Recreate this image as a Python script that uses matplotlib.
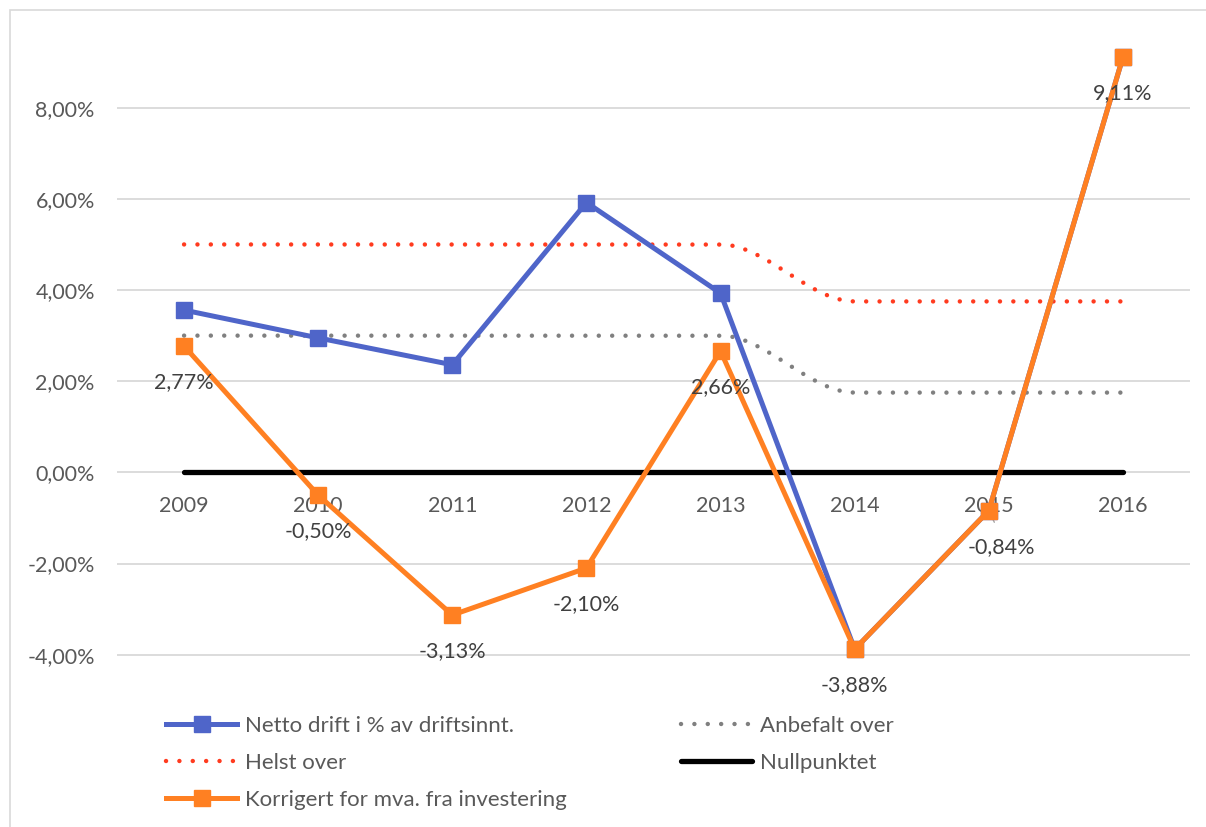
import numpy as np
import matplotlib
matplotlib.use("Agg")
import matplotlib.pyplot as plt
from matplotlib.lines import Line2D
from matplotlib.patches import Rectangle

plt.rcParams['font.family'] = ['Lato', 'DejaVu Sans']

years = ["2009", "2010", "2011", "2012", "2013", "2014", "2015", "2016"]
netto = [3.56, 2.95, 2.36, 5.92, 3.93, -3.88, -0.84, 9.11]
anbefalt = [3.0, 3.0, 3.0, 3.0, 3.0, 1.75, 1.75, 1.75]
helst = [5.0, 5.0, 5.0, 5.0, 5.0, 3.75, 3.75, 3.75]
nullpunkt = [0, 0, 0, 0, 0, 0, 0, 0]
korrigert = [2.77, -0.50, -3.13, -2.10, 2.66, -3.88, -0.84, 9.11]
yticks = [-4, -2, 0, 2, 4, 6, 8]

BLUE = "#4F65C9"
ORANGE = "#FF8022"
RED = "#FF3B1F"
GRAY = "#808080"
TXT = "#595959"


def smooth(y, n=40):
    # glatt linje uten oversving (monoton hermite)
    y = np.asarray(y, dtype=float)
    d = np.diff(y)
    m = np.zeros(len(y))
    m[0], m[-1] = d[0], d[-1]
    for k in range(1, len(y) - 1):
        if d[k - 1] * d[k] > 0:
            m[k] = (d[k - 1] + d[k]) / 2
    xs, ys = [], []
    t = np.linspace(0, 1, n)
    for i in range(len(y) - 1):
        h00 = 2 * t ** 3 - 3 * t ** 2 + 1
        h10 = t ** 3 - 2 * t ** 2 + t
        h01 = -2 * t ** 3 + 3 * t ** 2
        h11 = t ** 3 - t ** 2
        xs.extend(i + t)
        ys.extend(h00 * y[i] + h10 * m[i] + h01 * y[i + 1] + h11 * m[i + 1])
    return xs, ys


fig = plt.figure(figsize=(12.06, 8.27), dpi=100)
fig.patches.append(Rectangle((10 / 1206, -0.1), 1.2, 1 - 10 / 827 + 0.1, transform=fig.transFigure,
                             fill=False, edgecolor="#D9D9D9", linewidth=1.2))
ax = fig.add_axes([117 / 1206, 0.156, (1190 - 117) / 1206, 0.980 - 0.156])

x = np.arange(len(years))
dots = dict(linestyle=(0, (0.01, 3.0)), dash_capstyle='round', linewidth=3.2)

ax.plot(x, netto, color=BLUE, linewidth=3.6, marker='s', markersize=11, zorder=4)
ax.plot(*smooth(anbefalt), color=GRAY, zorder=2, **dots)
ax.plot(*smooth(helst), color=RED, zorder=2, **dots)
ax.plot(x, nullpunkt, color="black", linewidth=3.8, solid_capstyle='round', zorder=3)
ax.plot(x, korrigert, color=ORANGE, linewidth=3.6, marker='s', markersize=11, zorder=5)

for xi, v in zip(x, korrigert):
    dx = 9 if xi == 6 else 0
    ax.annotate(f"{v:.2f}%".replace(".", ","), (xi, v), xytext=(dx, -26),
                textcoords='offset points', ha='center', va='center',
                fontsize=15.5, color="#404040", zorder=6)
# liten ledelinje for 2015
ax.annotate("", (6, -0.84), xytext=(6.05, -1.15), arrowprops=dict(arrowstyle='-', color="#A6A6A6", lw=1))

ax.set_xlim(-0.5, 7.5)
ax.set_ylim(-4.95, 10.0)
ax.set_yticks(yticks)
ax.set_yticklabels([f"{v:.2f}%".replace(".", ",") for v in yticks])
ax.set_xticks(x)
ax.set_xticklabels(years)
ax.spines['bottom'].set_position(('data', 0))
for s in ax.spines.values():
    s.set_visible(False)
ax.tick_params(axis='both', length=0, labelsize=15.5, labelcolor=TXT)
ax.tick_params(axis='y', pad=16)
ax.tick_params(axis='x', pad=17)
ax.grid(axis='y', color="#D9D9D9", linewidth=1.3)
ax.set_axisbelow(True)

h_netto = Line2D([], [], color=BLUE, linewidth=3.6, marker='s', markersize=11)
h_helst = Line2D([], [], color=RED, **dots)
h_korr = Line2D([], [], color=ORANGE, linewidth=3.6, marker='s', markersize=11)
h_anb = Line2D([], [], color=GRAY, **dots)
h_null = Line2D([], [], color="black", linewidth=3.8, solid_capstyle='round')

leg_kw = dict(loc='upper left', frameon=False, fontsize=16, labelcolor=TXT, handlelength=3.2,
              handletextpad=0.35, labelspacing=0.76, borderaxespad=0, borderpad=0)
fig.legend([h_netto, h_helst, h_korr],
           ["Netto drift i % av driftsinnt.", "Helst over", "Korrigert for mva. fra investering"],
           bbox_to_anchor=(166 / 1206, 1 - 716 / 827), **leg_kw)
fig.legend([h_anb, h_null], ["Anbefalt over", "Nullpunktet"],
           bbox_to_anchor=(681 / 1206, 1 - 716 / 827), **leg_kw)

fig.savefig("out.png", dpi=100)
